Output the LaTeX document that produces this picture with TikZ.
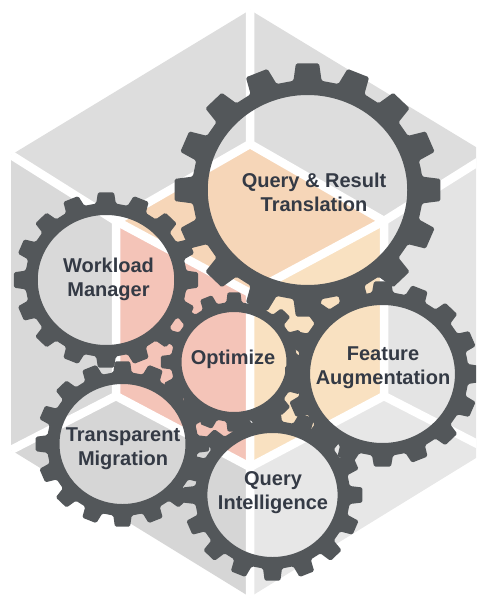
\documentclass[tikz,border=0pt]{standalone}
\usepackage{fontspec}
\setmainfont{Liberation Sans}

\definecolor{gearcol}{HTML}{53575A}
\definecolor{textcol}{HTML}{343A45}
\definecolor{topgray}{HTML}{DDDDDD}
\definecolor{leftgray}{HTML}{D9D9D9}
\definecolor{botleftgray}{HTML}{D6D6D6}
\definecolor{rightgray}{HTML}{E4E4E4}
\definecolor{botrightgray}{HTML}{E7E7E7}
\definecolor{topface}{HTML}{F6D6B8}
\definecolor{leftface}{HTML}{F4C4B8}
\definecolor{rightface}{HTML}{F9E1C1}

\tikzset{
  gear/.style={fill=gearcol, even odd rule, rounded corners=1.5pt},
  gearname/.style={font=\bfseries\fontsize{20}{24}\selectfont, text=textcol, align=center, inner sep=0pt},
  seam/.style={draw=white, line width=8.5pt}
}

% cx, cy, inner radius, root radius, tip radius
\newcommand{\gearat}[5]{%
  \fill[gear, shift={(#1,#2)}, xscale=1.05]
    (-11.25:#4) \foreach \k in {0,...,15} {
      -- ({\k*22.5-7}:#4) -- ({\k*22.5-5}:#5) -- ({\k*22.5+5}:#5) -- ({\k*22.5+7}:#4)
    } -- cycle
    (0,0) circle (#3);
}

\begin{document}
\begin{tikzpicture}[x=1pt,y=-1pt]
\useasboundingbox (0,0) rectangle (476,599);
\clip (0,0) rectangle (476,599);

% outer hexagon
\coordinate (T) at (250,10);
\coordinate (UL) at (11,155);
\coordinate (LL) at (11,450);
\coordinate (B) at (250,597);
\coordinate (LR) at (489,450);
\coordinate (UR) at (489,155);
% inner cube
\coordinate (t) at (250,144);
\coordinate (ul) at (116,221);
\coordinate (ll) at (116,396);
\coordinate (b) at (250,467);
\coordinate (lr) at (384,396);
\coordinate (ur) at (384,221);
\coordinate (O) at (250,293);

\fill[topgray] (T) -- (UL) -- (ul) -- (t) -- cycle;
\fill[topgray] (T) -- (t) -- (ur) -- (UR) -- cycle;
\fill[leftgray] (UL) -- (LL) -- (ll) -- (ul) -- cycle;
\fill[botleftgray] (LL) -- (B) -- (b) -- (ll) -- cycle;
\fill[botrightgray] (B) -- (LR) -- (lr) -- (b) -- cycle;
\fill[rightgray] (UR) -- (ur) -- (lr) -- (LR) -- cycle;
\fill[topface] (t) -- (ul) -- (O) -- (ur) -- cycle;
\fill[leftface] (ul) -- (ll) -- (b) -- (O) -- cycle;
\fill[rightface] (ur) -- (O) -- (b) -- (lr) -- cycle;

\draw[seam] (T) -- (t) (UL) -- (ul) (LL) -- (ll) (B) -- (b) (LR) -- (lr) (UR) -- (ur);
\draw[seam] (t) -- (ul) -- (ll) -- (b) -- (lr) -- (ur) -- cycle;
\draw[seam] (O) -- (ul) (O) -- (ur) (O) -- (b);

% gears
\gearat{307.5}{190}{95}{110}{127}
\gearat{106}{280}{65}{77}{88}
\gearat{234}{362}{50}{60}{70}
\gearat{382.5}{374}{69}{82}{93}
\gearat{122.5}{444}{60}{72}{83}
\gearat{272.5}{495}{62}{74}{86}

% names
\node[gearname] (qrt) at (314,192) {Query \& Result\\Translation};
\node[gearname] (wm) at (108.5,279) {Workload\\Manager};
\node[gearname] (opt) at (233,359) {Optimize};
\node[gearname] (fa) at (383,368) {Feature\\Augmentation};
\node[gearname] (tm) at (123,449) {Transparent\\Migration};
\node[gearname] (qi) at (273,493) {Query\\Intelligence};
\end{tikzpicture}
\end{document}
